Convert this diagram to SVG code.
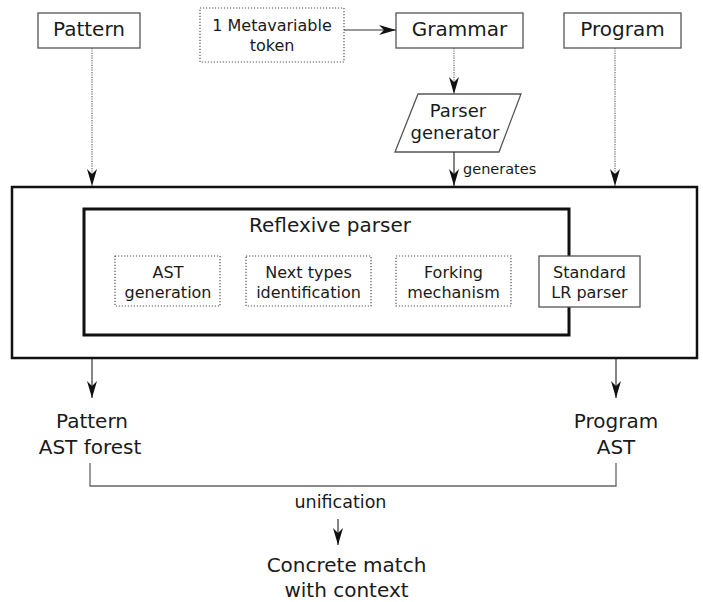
<svg xmlns="http://www.w3.org/2000/svg" width="703" height="602" viewBox="0 0 703 602">
<style>
text{font-family:"DejaVu Sans","Liberation Sans",sans-serif;fill:#1a1a1a;text-anchor:middle}
.box{fill:#fff;stroke:#555;stroke-width:1.3}
.dot{fill:#fff;stroke:#555;stroke-width:1.2;stroke-dasharray:1.2 1.8}
.t20{font-size:20px}
.t16{font-size:16px}
.t18{font-size:18px}
.dl{fill:none;stroke:#666;stroke-width:1.2;stroke-dasharray:1.2 1.2}
.sl{fill:none;stroke:#333;stroke-width:1.2}
</style>
<defs>
<marker id="ah" viewBox="-18 -6 18 12" refX="0" refY="0" markerWidth="18" markerHeight="12" markerUnits="userSpaceOnUse" orient="auto">
<path d="M0,0 L-17,-5 L-12,0 L-17,5 Z" fill="#111"/>
</marker>
</defs>
<g id="outer"><rect x="12" y="187" width="685" height="171" fill="#fff" stroke="#111" stroke-width="2.5"/></g>
<g id="reflexive"><rect x="84" y="209" width="485" height="126" fill="#fff" stroke="#111" stroke-width="3"/>
<text class="t20" x="330" y="232">Reflexive parser</text></g>
<g id="astgen"><rect class="dot" x="115" y="256" width="105" height="50"/>
<text class="t16" x="168" y="278">AST</text><text class="t16" x="168" y="298">generation</text></g>
<g id="nexttypes"><rect class="dot" x="246" y="256" width="125" height="50"/>
<text class="t16" x="308.5" y="278">Next types</text><text class="t16" x="308.5" y="298">identification</text></g>
<g id="forking"><rect class="dot" x="396" y="256" width="115" height="50"/>
<text class="t16" x="453.5" y="278">Forking</text><text class="t16" x="453.5" y="298">mechanism</text></g>
<g id="standard"><rect class="box" x="539" y="256" width="101" height="51"/>
<text class="t16" x="589.5" y="278">Standard</text><text class="t16" x="589.5" y="298">LR parser</text></g>
<g id="pattern"><rect class="box" x="38" y="13" width="102" height="35"/><text class="t20" x="89" y="36">Pattern</text></g>
<g id="metavar"><rect class="dot" x="200" y="8" width="144" height="54"/>
<text class="t16" x="272" y="31">1 Metavariable</text><text class="t16" x="272" y="51">token</text></g>
<g id="grammar"><rect class="box" x="396" y="13" width="127" height="35"/><text class="t20" x="459.5" y="36">Grammar</text></g>
<g id="program"><rect class="box" x="564" y="13" width="117" height="35"/><text class="t20" x="622.5" y="36">Program</text></g>
<g id="parsergen"><path class="box" d="M418,94 L521,94 L499,152 L395,152 Z"/>
<text class="t18" x="458" y="117">Parser</text><text class="t18" x="455" y="139">generator</text></g>
<g id="patternast"><text class="t20" x="92" y="428">Pattern</text><text class="t20" x="90" y="454">AST forest</text></g>
<g id="programast"><text class="t20" x="616" y="428">Program</text><text class="t20" x="616" y="454">AST</text></g>
<g id="match"><text class="t20" x="346.5" y="572">Concrete match</text><text class="t20" x="346.5" y="597">with context</text></g>
<g id="connectors">
<line class="sl" x1="344" y1="30" x2="396" y2="30" marker-end="url(#ah)"/>
<line class="dl" x1="92" y1="48" x2="92" y2="186" marker-end="url(#ah)"/>
<line class="dl" x1="454" y1="48" x2="454" y2="94" marker-end="url(#ah)"/>
<line class="dl" x1="615" y1="48" x2="615" y2="186" marker-end="url(#ah)"/>
<line class="sl" x1="454" y1="152" x2="454" y2="186" marker-end="url(#ah)"/>
<text font-size="14.5px" x="463" y="174" style="text-anchor:start">generates</text>
<line class="sl" x1="92" y1="359" x2="92" y2="398" marker-end="url(#ah)"/>
<line class="sl" x1="616" y1="359" x2="616" y2="398" marker-end="url(#ah)"/>
<path d="M90,463 V486 H616 V463" fill="none" stroke="#666" stroke-width="1.3"/>
<text font-size="17.5px" x="340.5" y="508">unification</text>
<line class="sl" x1="338" y1="519" x2="338" y2="545" marker-end="url(#ah)"/>
</g>
</svg>
